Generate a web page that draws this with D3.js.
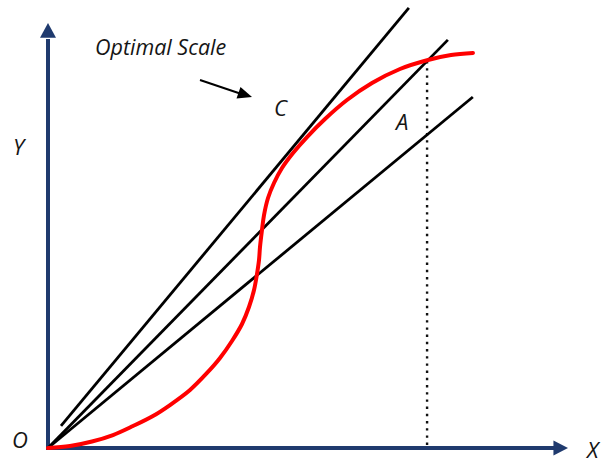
<!DOCTYPE html>
<html>
<head>
<meta charset="utf-8">
<script src="https://cdn.jsdelivr.net/npm/d3@7"></script>
<style>
  body { margin: 0; background: #fff; }
  svg { display: block; }
  .lbl { font-family: "Open Sans", sans-serif; font-style: italic; fill: #151515; }
</style>
</head>
<body>
<svg width="603" height="465"></svg>
<script>
// red S-curve (x, y) in chart units
const curveX = [0, 4.23, 8.46, 12.5, 16.35, 20.19, 23.46, 27.31, 30.58, 33.08, 35.38, 37.31, 38.65, 39.62, 40.19, 40.58, 40.77,
  41.15, 41.54, 42.31, 43.46, 45.0, 47.12, 49.81, 53.27, 57.5, 62.31, 67.69, 73.08, 77.5, 81.73];
const curveY = [0, 0.47, 1.53, 3.05, 5.16, 7.51, 10.09, 13.62, 17.61, 21.13, 25.12, 29.11, 33.1, 37.09, 40.85, 44.13, 47.18,
  51.17, 54.69, 58.69, 62.21, 65.73, 69.25, 73.0, 77.23, 81.69, 85.68, 88.97, 91.08, 92.25, 92.72];

// rays: start and end points
const rayStartX = [2.5, 0, 0];
const rayStartY = [5.2, 0, 0];
const rayEndX = [69.4, 76.9, 81.7];
const rayEndY = [103.3, 95.8, 82.4];

// dotted drop line at point A
const dropX = 72.9;
const dropTop = 91.1;

const svg = d3.select("svg");

const x = d3.scaleLinear().domain([0, 100]).range([48, 568]);
const y = d3.scaleLinear().domain([0, 100]).range([448, 22]);

const axisColor = "#1f3a6e";

// axes
svg.append("line")
  .attr("x1", x(0)).attr("y1", y(0) + 2)
  .attr("x2", x(0)).attr("y2", y(96))
  .attr("stroke", axisColor)
  .attr("stroke-width", 4);

svg.append("line")
  .attr("x1", x(0) - 2).attr("y1", y(0))
  .attr("x2", x(97.5)).attr("y2", y(0))
  .attr("stroke", axisColor)
  .attr("stroke-width", 4);

// arrow heads
svg.append("path")
  .attr("d", `M${x(0)},${y(100) + 1} L${x(0) - 8},${y(96.3)} L${x(0) + 8},${y(96.3)} Z`)
  .attr("fill", axisColor);

svg.append("path")
  .attr("d", `M${x(100)},${y(0)} L${x(97.2)},${y(0) - 7.5} L${x(97.2)},${y(0) + 7.5} Z`)
  .attr("fill", axisColor);

// dotted drop line
svg.append("line")
  .attr("x1", x(dropX)).attr("y1", y(0) - 3)
  .attr("x2", x(dropX)).attr("y2", y(dropTop))
  .attr("stroke", "#111")
  .attr("stroke-width", 2.4)
  .attr("stroke-dasharray", "2.4,4.8");

// rays
const line = d3.line().x(d => x(d[0])).y(d => y(d[1]));

svg.selectAll("path.ray")
  .data(rayEndX.map((d, i) => [[rayStartX[i], rayStartY[i]], [d, rayEndY[i]]]))
  .enter()
  .append("path")
  .attr("class", "ray")
  .attr("d", line)
  .attr("fill", "none")
  .attr("stroke", "#000")
  .attr("stroke-width", 2.8);

// red curve
const curvePts = curveX.map((d, i) => [d, curveY[i]]);

svg.append("path")
  .attr("d", line.curve(d3.curveCatmullRom.alpha(0.5))(curvePts))
  .attr("fill", "none")
  .attr("stroke", "#f00")
  .attr("stroke-width", 4)
  .attr("stroke-linecap", "round");

// labels
svg.append("text").attr("class", "lbl")
  .attr("x", 95).attr("y", 55)
  .attr("font-size", 21.5)
  .text("Optimal Scale");

svg.append("text").attr("class", "lbl").attr("x", 13).attr("y", 155).attr("font-size", 22).text("Y");
svg.append("text").attr("class", "lbl").attr("x", 12).attr("y", 448).attr("font-size", 22).text("O");
svg.append("text").attr("class", "lbl").attr("x", 587).attr("y", 458).attr("font-size", 22).text("X");
svg.append("text").attr("class", "lbl").attr("x", 274).attr("y", 116).attr("font-size", 22).text("C");
svg.append("text").attr("class", "lbl").attr("x", 396).attr("y", 130).attr("font-size", 22).text("A");

// pointer arrow to C
svg.append("line")
  .attr("x1", 200).attr("y1", 80)
  .attr("x2", 240).attr("y2", 93.5)
  .attr("stroke", "#000")
  .attr("stroke-width", 2);

svg.append("path")
  .attr("d", "M252,97 L236.5,98.5 L240.5,87 Z")
  .attr("fill", "#000");
</script>
</body>
</html>
